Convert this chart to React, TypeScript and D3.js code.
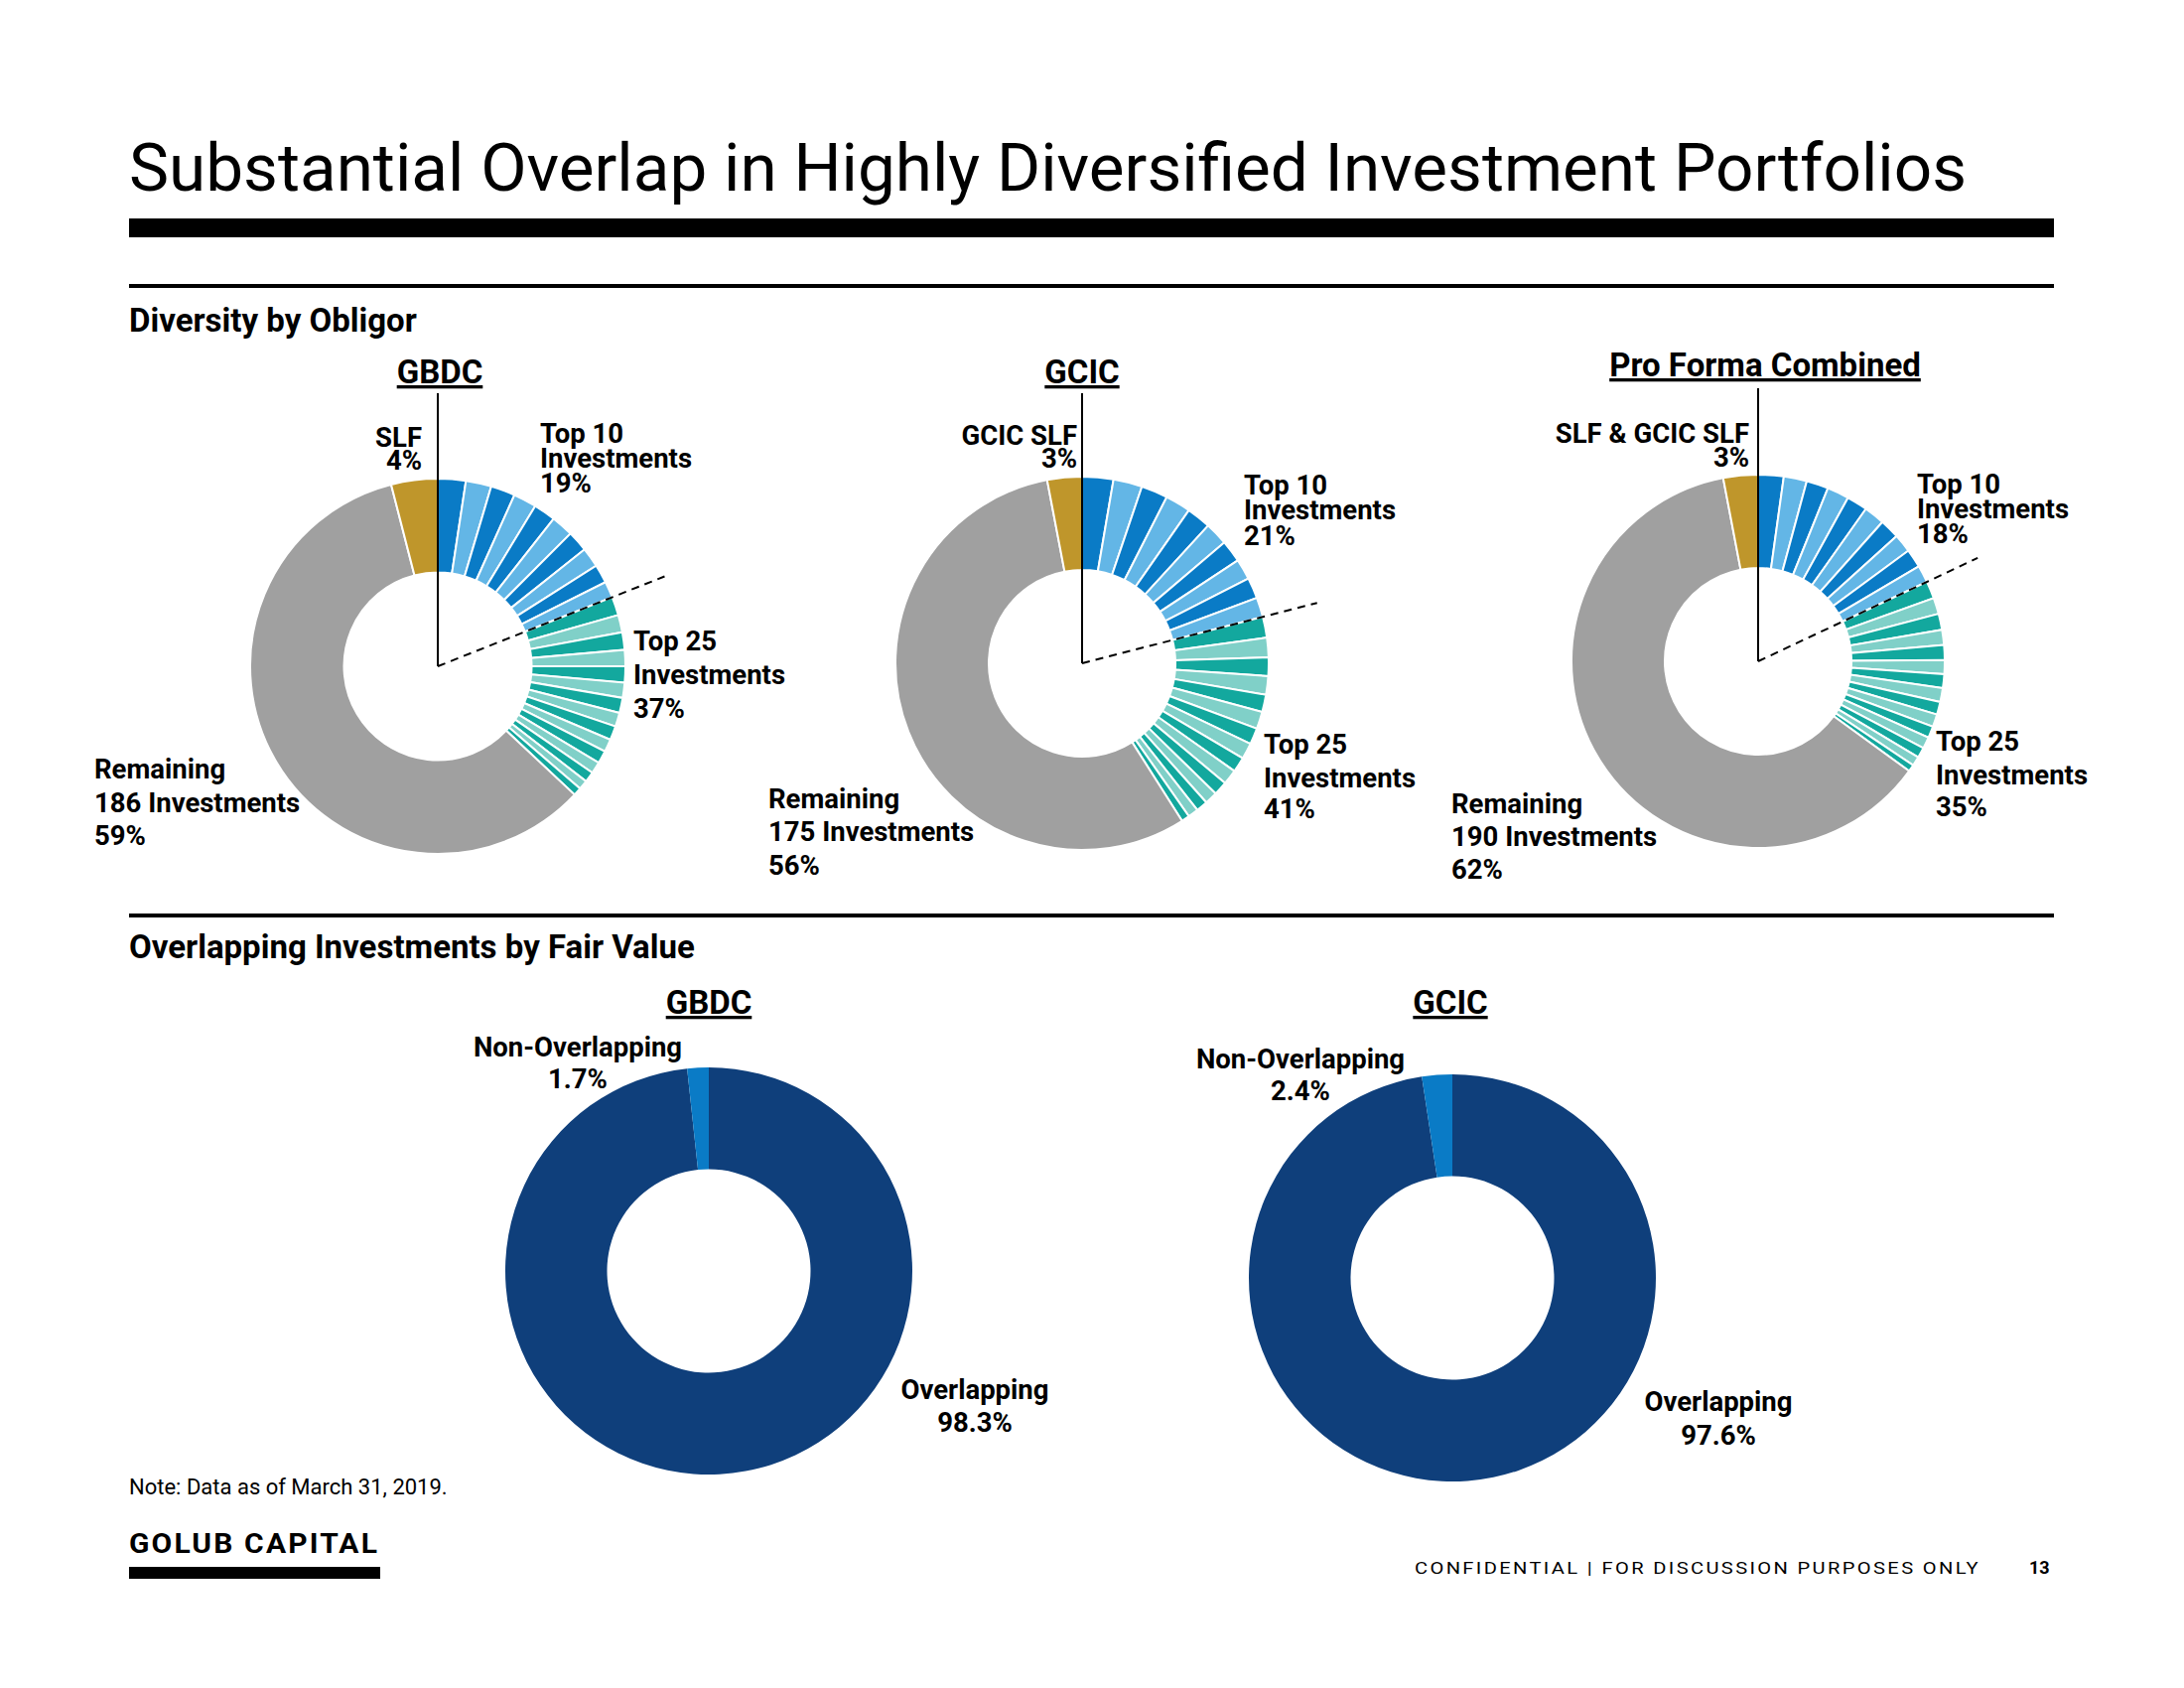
import React from "react";
import * as d3 from "d3";

// ---------- DATA ----------
const topTitles = ["GBDC", "GCIC", "Pro Forma Combined"];
const gbdcTop10 = [2.4, 2.2, 2.1, 2.0, 1.9, 1.9, 1.8, 1.7, 1.6, 1.4];
const gbdcNext15 = [1.6, 1.5, 1.5, 1.4, 1.4, 1.3, 1.3, 1.2, 1.2, 1.1, 1.1, 1.0, 0.9, 0.8, 0.7];
const gcicTop10 = [2.7, 2.5, 2.3, 2.2, 2.1, 2.0, 1.9, 1.8, 1.8, 1.7];
const gcicNext15 = [1.8, 1.7, 1.6, 1.6, 1.5, 1.5, 1.4, 1.4, 1.3, 1.3, 1.2, 1.1, 1.0, 0.9, 0.7];
const pfTop10 = [2.2, 2.0, 1.9, 1.9, 1.8, 1.8, 1.7, 1.6, 1.6, 1.5];
const pfNext15 = [1.5, 1.4, 1.4, 1.3, 1.3, 1.2, 1.2, 1.2, 1.1, 1.1, 1.0, 1.0, 0.9, 0.8, 0.6];
const remainingShare = [59, 56, 62];
const slfShare = [4, 3, 3];
const top10Share = [19, 21, 18];
const top25Share = [37, 41, 35];
const remainingCount = [186, 175, 190];
const slfNames = ["SLF", "GCIC SLF", "SLF & GCIC SLF"];

const bottomTitles = ["GBDC", "GCIC"];
const overlapping = [98.3, 97.6];
const nonOverlapping = [1.7, 2.4];

// ---------- STYLE / LAYOUT ----------
const C = {
  dark: "#0A7BC6",
  light: "#63B6E6",
  teal: "#13A89E",
  lteal: "#80D0C8",
  grey: "#A0A0A0",
  gold: "#BF962B",
  navy: "#0F3F7B",
  nonOv: "#0A7BC6",
};
const FONT = "Roboto, 'Noto Sans', Arial, sans-serif";

const topLayout = [
  { cx: 441, cy: 671, r: 189, titleY: 386, titleX: 443, lineTop: 396,
    slf: { x: 425, y: [450, 473] }, t10: { x: 544, y: [446, 471, 496] },
    t25: { x: 638, y: [655, 689, 723] }, rem: { x: 95, y: [784, 818, 851] } },
  { cx: 1090, cy: 668, r: 188, titleY: 386, titleX: 1090, lineTop: 396,
    slf: { x: 1085, y: [448, 471] }, t10: { x: 1253, y: [498, 523, 549] },
    t25: { x: 1273, y: [759, 793, 824] }, rem: { x: 774, y: [814, 847, 881] } },
  { cx: 1771, cy: 666, r: 188, titleY: 379, titleX: 1778, lineTop: 391,
    slf: { x: 1762, y: [446, 470] }, t10: { x: 1931, y: [497, 522, 547] },
    t25: { x: 1950, y: [756, 790, 822] }, rem: { x: 1462, y: [819, 852, 885] } },
];
const bottomLayout = [
  { cx: 714, cy: 1280, r: 205, titleX: 714, titleY: 1021,
    non: { x: 582, y: [1064, 1096] }, ov: { x: 982, y: [1409, 1442] } },
  { cx: 1463, cy: 1287, r: 205, titleX: 1461, titleY: 1021,
    non: { x: 1310, y: [1076, 1108] }, ov: { x: 1731, y: [1421, 1455] } },
];

const LBL = 27.5;
const HEAD = 33;

type Seg = { v: number; color: string };

function TopDonut({ i }: { i: number }) {
  const L = topLayout[i];
  const t10 = [gbdcTop10, gcicTop10, pfTop10][i];
  const n15 = [gbdcNext15, gcicNext15, pfNext15][i];
  const segs: Seg[] = [
    ...t10.map((v, k) => ({ v, color: k % 2 === 0 ? C.dark : C.light })),
    ...n15.map((v, k) => ({ v, color: k % 2 === 0 ? C.teal : C.lteal })),
    { v: remainingShare[i], color: C.grey },
    { v: slfShare[i], color: C.gold },
  ];
  const pie = d3.pie<Seg>().value((d) => d.v).sort(null).startAngle(0).endAngle(2 * Math.PI);
  const arcs = pie(segs);
  const arc = d3.arc<d3.PieArcDatum<Seg>>().innerRadius(L.r * 0.5).outerRadius(L.r);
  const boundary = arcs[t10.length - 1].endAngle;
  const dl = L.r * 1.3;
  const dx = Math.sin(boundary) * dl;
  const dy = -Math.cos(boundary) * dl;
  return (
    <g>
      <text x={L.titleX} y={L.titleY} textAnchor="middle" fontSize={HEAD} fontWeight={700}
        textDecoration="underline" fontFamily={FONT}>{topTitles[i]}</text>
      <g transform={`translate(${L.cx},${L.cy})`}>
        {arcs.map((a, k) => (
          <path key={k} d={arc(a) || ""} fill={a.data.color} stroke="#fff" strokeWidth={2} />
        ))}
        <line x1={0} y1={L.lineTop - L.cy} x2={0} y2={0} stroke="#000" strokeWidth={2} />
        <line x1={0} y1={0} x2={dx} y2={dy} stroke="#000" strokeWidth={2} strokeDasharray="8,6" />
      </g>
      <g fontFamily={FONT} fontWeight={700} fontSize={LBL} fill="#000">
        <text textAnchor="end" x={L.slf.x} y={L.slf.y[0]}>{slfNames[i]}</text>
        <text textAnchor="end" x={L.slf.x} y={L.slf.y[1]}>{slfShare[i]}%</text>
        <text x={L.t10.x} y={L.t10.y[0]}>Top 10</text>
        <text x={L.t10.x} y={L.t10.y[1]}>Investments</text>
        <text x={L.t10.x} y={L.t10.y[2]}>{top10Share[i]}%</text>
        <text x={L.t25.x} y={L.t25.y[0]}>Top 25</text>
        <text x={L.t25.x} y={L.t25.y[1]}>Investments</text>
        <text x={L.t25.x} y={L.t25.y[2]}>{top25Share[i]}%</text>
        <text x={L.rem.x} y={L.rem.y[0]}>Remaining</text>
        <text x={L.rem.x} y={L.rem.y[1]}>{remainingCount[i]} Investments</text>
        <text x={L.rem.x} y={L.rem.y[2]}>{remainingShare[i]}%</text>
      </g>
    </g>
  );
}

type Seg2 = { v: number; color: string };
function BottomDonut({ i }: { i: number }) {
  const L = bottomLayout[i];
  const segs: Seg2[] = [
    { v: overlapping[i], color: C.navy },
    { v: nonOverlapping[i], color: C.nonOv },
  ];
  const pie = d3.pie<Seg2>().value((d) => d.v).sort(null).startAngle(0).endAngle(2 * Math.PI);
  const arc = d3.arc<d3.PieArcDatum<Seg2>>().innerRadius(L.r * 0.5).outerRadius(L.r);
  return (
    <g>
      <text x={L.titleX} y={L.titleY} textAnchor="middle" fontSize={HEAD} fontWeight={700}
        textDecoration="underline" fontFamily={FONT}>{bottomTitles[i]}</text>
      <g transform={`translate(${L.cx},${L.cy})`}>
        {pie(segs).map((a, k) => (
          <path key={k} d={arc(a) || ""} fill={a.data.color} />
        ))}
      </g>
      <g fontFamily={FONT} fontWeight={700} fontSize={LBL} fill="#000" textAnchor="middle">
        <text x={L.non.x} y={L.non.y[0]}>Non-Overlapping</text>
        <text x={L.non.x} y={L.non.y[1]}>{nonOverlapping[i]}%</text>
        <text x={L.ov.x} y={L.ov.y[0]}>Overlapping</text>
        <text x={L.ov.x} y={L.ov.y[1]}>{overlapping[i]}%</text>
      </g>
    </g>
  );
}

export default function App() {
  return (
    <svg width={2200} height={1700} viewBox="0 0 2200 1700"
      style={{ position: "absolute", left: 0, top: 0, background: "#fff" }}>
      <rect x={0} y={0} width={2200} height={1700} fill="#fff" />
      <text x={130} y={192} fontFamily={FONT} fontSize={66} fill="#000"
        textLength={1851} lengthAdjust="spacingAndGlyphs">
        Substantial Overlap in Highly Diversified Investment Portfolios
      </text>
      <rect x={130} y={220} width={1939} height={19} fill="#000" />
      <rect x={130} y={286} width={1939} height={4} fill="#000" />
      <text x={130} y={334} fontFamily={FONT} fontSize={HEAD} fontWeight={700}>Diversity by Obligor</text>
      {[0, 1, 2].map((i) => <TopDonut key={i} i={i} />)}
      <rect x={130} y={920} width={1939} height={4} fill="#000" />
      <text x={130} y={965} fontFamily={FONT} fontSize={HEAD} fontWeight={700}>Overlapping Investments by Fair Value</text>
      {[0, 1].map((i) => <BottomDonut key={i} i={i} />)}
      <text x={130} y={1505} fontFamily={FONT} fontSize={22}>Note: Data as of March 31, 2019.</text>
      <text x={130} y={1564} fontFamily={FONT} fontSize={28} fontWeight={700} letterSpacing={2}
        textLength={252} lengthAdjust="spacingAndGlyphs">GOLUB CAPITAL</text>
      <rect x={130} y={1578} width={253} height={12} fill="#000" />
      <text x={1425} y={1585} fontFamily={FONT} fontSize={17} letterSpacing={2}
        textLength={570} lengthAdjust="spacingAndGlyphs">CONFIDENTIAL  |  FOR DISCUSSION PURPOSES ONLY</text>
      <text x={2044} y={1585} fontFamily={FONT} fontSize={18} fontWeight={700}>13</text>
    </svg>
  );
}
